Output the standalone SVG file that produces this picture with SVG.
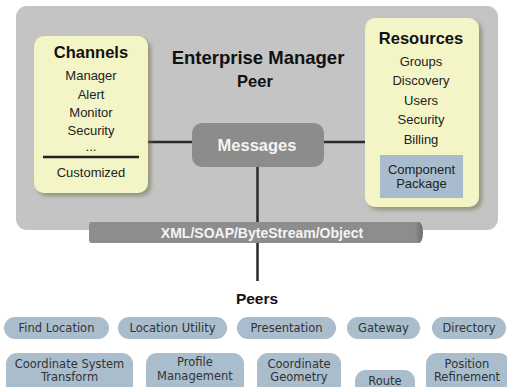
<svg xmlns="http://www.w3.org/2000/svg" width="507" height="387" viewBox="0 0 507 387">
<defs>
<filter id="sh" x="-10%" y="-10%" width="130%" height="130%">
<feGaussianBlur in="SourceAlpha" stdDeviation="2"/>
<feOffset dx="3" dy="3" result="b"/>
<feFlood flood-color="#6b6b40" flood-opacity="0.55"/>
<feComposite in2="b" operator="in"/>
<feMerge><feMergeNode/><feMergeNode in="SourceGraphic"/></feMerge>
</filter>
<linearGradient id="cap" x1="0" y1="0" x2="1" y2="0">
<stop offset="0" stop-color="#8a8a8a"/>
<stop offset="1" stop-color="#6e6e6e"/>
</linearGradient>
</defs>
<style>
.panel{fill:#c4c4c4}
.ybox{fill:#f3f5c6}
.title{font-family:"Liberation Sans",Arial,sans-serif;font-weight:bold;fill:#111;text-anchor:middle}
.item{font-family:"Liberation Sans",Arial,sans-serif;font-size:13px;fill:#222;text-anchor:middle}
.pill{fill:#a9bdcd}
.ptext{font-family:"DejaVu Sans",Verdana,sans-serif;font-size:11.5px;fill:#333;text-anchor:middle}
.wtext{font-family:"Liberation Sans",Arial,sans-serif;font-weight:bold;fill:#f4f4f4;text-anchor:middle}
.conn{stroke:#2a2a2a;stroke-width:2.5;fill:none}
</style>
<rect class="panel" x="16" y="6" width="482" height="224" rx="11"/>

<g id="connectors">
<line class="conn" x1="148" y1="142" x2="193" y2="142"/>
<line class="conn" x1="323" y1="142" x2="366" y2="142"/>
<line class="conn" x1="257.5" y1="166" x2="257.5" y2="281"/>
</g>

<g id="enterprise-manager">
<text class="title" x="258" y="64" font-size="18.5">Enterprise Manager</text>
<text class="title" x="255" y="87" font-size="16.5">Peer</text>
</g>

<g id="channels">
<rect class="ybox" x="34" y="36" width="114" height="157" rx="10" filter="url(#sh)"/>
<text class="title" x="91" y="58" font-size="16.5">Channels</text>
<text class="item" x="91" y="80">Manager</text>
<text class="item" x="91" y="99">Alert</text>
<text class="item" x="91" y="117">Monitor</text>
<text class="item" x="91" y="135">Security</text>
<text class="item" x="91" y="151" font-size="7" fill="#777">...</text>
<line x1="43" y1="157" x2="139" y2="157" stroke="#222" stroke-width="2.5"/>
<text class="item" x="91" y="177">Customized</text>
</g>

<g id="resources">
<rect class="ybox" x="365" y="18" width="114" height="189" rx="10" filter="url(#sh)"/>
<text class="title" x="421" y="44" font-size="16.5">Resources</text>
<text class="item" x="421" y="66">Groups</text>
<text class="item" x="421" y="85">Discovery</text>
<text class="item" x="421" y="105">Users</text>
<text class="item" x="421" y="124">Security</text>
<text class="item" x="421" y="144">Billing</text>
<rect x="380" y="155" width="83" height="43" fill="#a9bccd"/>
<text class="item" x="421.5" y="174">Component</text>
<text class="item" x="421.5" y="188">Package</text>
</g>

<g id="messages">
<rect x="192" y="123" width="132" height="44" rx="10" fill="#8c8c8c"/>
<text class="wtext" x="257" y="151" font-size="16.5">Messages</text>
</g>

<g id="transport">
<rect x="89" y="222" width="332" height="21" rx="3" fill="#8d8d8d"/>
<ellipse cx="419" cy="232.5" rx="4" ry="10.5" fill="url(#cap)"/>
<text class="wtext" x="262" y="238" font-size="14">XML/SOAP/ByteStream/Object</text>
</g>

<g id="peers-label">
<text class="title" x="257" y="304" font-size="15.5">Peers</text>
</g>

<g id="find-location">
<rect class="pill" x="4" y="317" width="105" height="22" rx="11"/>
<text class="ptext" x="56.5" y="332">Find Location</text>
</g>
<g id="location-utility">
<rect class="pill" x="118" y="317" width="109" height="22" rx="11"/>
<text class="ptext" x="172.5" y="332">Location Utility</text>
</g>
<g id="presentation">
<rect class="pill" x="237" y="317" width="99" height="22" rx="11"/>
<text class="ptext" x="286.5" y="332">Presentation</text>
</g>
<g id="gateway">
<rect class="pill" x="347" y="317" width="73" height="22" rx="11"/>
<text class="ptext" x="383.5" y="332">Gateway</text>
</g>
<g id="directory">
<rect class="pill" x="432" y="317" width="74" height="22" rx="11"/>
<text class="ptext" x="469" y="332">Directory</text>
</g>

<g id="coordinate-system-transform">
<rect class="pill" x="6" y="353" width="127" height="44" rx="11"/>
<text class="ptext" x="69.5" y="368">Coordinate System</text>
<text class="ptext" x="69.5" y="381">Transform</text>
</g>
<g id="profile-management">
<rect class="pill" x="146" y="353" width="98" height="44" rx="11"/>
<text class="ptext" x="195" y="366">Profile</text>
<text class="ptext" x="195" y="380">Management</text>
</g>
<g id="coordinate-geometry">
<rect class="pill" x="257" y="353" width="84" height="44" rx="11"/>
<text class="ptext" x="299" y="368">Coordinate</text>
<text class="ptext" x="299" y="381">Geometry</text>
</g>
<g id="route">
<rect class="pill" x="355" y="370" width="60" height="30" rx="11"/>
<text class="ptext" x="385" y="385">Route</text>
</g>
<g id="position-refinement">
<rect class="pill" x="426" y="353" width="84" height="44" rx="11"/>
<text class="ptext" x="467" y="368">Position</text>
<text class="ptext" x="467" y="381">Refinement</text>
</g>
</svg>
